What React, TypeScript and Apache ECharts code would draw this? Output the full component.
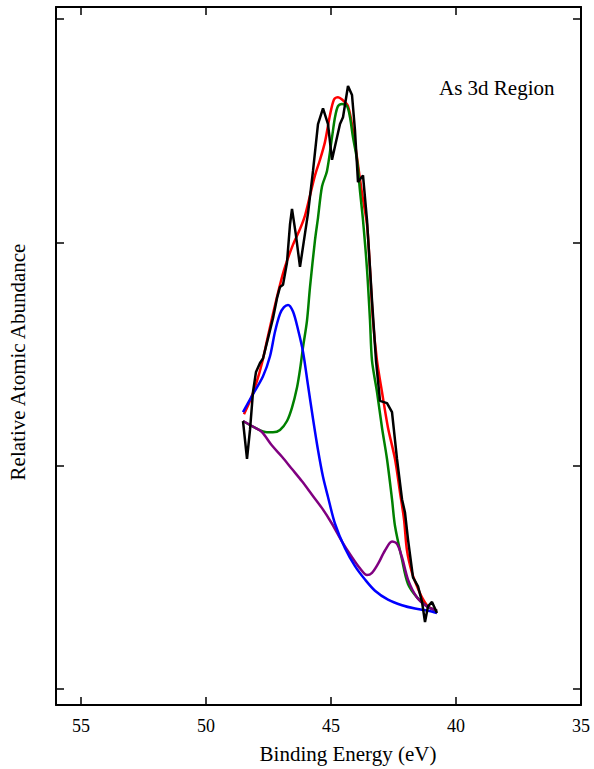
import React, { useEffect, useRef } from "react";
import * as echarts from "echarts";

// Raw spectrum (black)
const rawEnergy = [48.52, 48.36, 48.24, 48.12, 48.0, 47.84, 47.72, 47.52, 47.32, 47.16, 47.04, 46.92, 46.76, 46.64, 46.56, 46.4, 46.24, 46.08, 45.92, 45.72, 45.52, 45.32, 45.12, 44.96, 44.84, 44.64, 44.52, 44.32, 44.16, 44.04, 43.92, 43.72, 43.56, 43.36, 43.2, 43.04, 42.76, 42.56, 42.36, 42.16, 42.04, 41.92, 41.72, 41.52, 41.36, 41.24, 41.12, 40.96, 40.76];
const rawAbundance = [1.2, 1.03, 1.16, 1.33, 1.42, 1.46, 1.48, 1.57, 1.66, 1.75, 1.8, 1.81, 1.91, 2.08, 2.15, 2.03, 1.89, 2.01, 2.13, 2.32, 2.53, 2.6, 2.53, 2.37, 2.43, 2.53, 2.56, 2.7, 2.66, 2.5, 2.27, 2.3, 2.1, 1.74, 1.47, 1.29, 1.28, 1.24, 1.03, 0.85, 0.79, 0.67, 0.5, 0.46, 0.39, 0.3, 0.37, 0.39, 0.34];

// Envelope fit (red)
const envEnergy = [48.48, 48.24, 47.96, 47.76, 47.56, 47.32, 47.04, 46.84, 46.52, 46.24, 46.04, 45.84, 45.64, 45.44, 45.24, 45.04, 44.88, 44.72, 44.56, 44.32, 44.12, 43.96, 43.76, 43.56, 43.44, 43.32, 43.16, 42.96, 42.72, 42.44, 42.24, 42.08, 41.96, 41.76, 41.56, 41.36, 41.12, 40.76];
const envAbundance = [1.23, 1.29, 1.38, 1.46, 1.56, 1.68, 1.81, 1.89, 1.99, 2.06, 2.12, 2.21, 2.3, 2.37, 2.45, 2.57, 2.64, 2.65, 2.64, 2.61, 2.5, 2.38, 2.22, 2.08, 1.88, 1.65, 1.47, 1.33, 1.17, 1.03, 0.88, 0.76, 0.62, 0.52, 0.46, 0.41, 0.37, 0.35];

// Component 1 (green)
const greenEnergy = [48.52, 48.04, 47.56, 47.32, 47.04, 46.76, 46.56, 46.36, 46.24, 46.12, 45.96, 45.84, 45.64, 45.52, 45.36, 45.16, 44.96, 44.84, 44.72, 44.56, 44.36, 44.24, 44.12, 43.96, 43.84, 43.72, 43.56, 43.44, 43.36, 43.16, 42.96, 42.76, 42.56, 42.44, 42.16, 41.92, 41.56, 41.16, 40.76];
const greenAbundance = [1.2, 1.17, 1.15, 1.15, 1.16, 1.2, 1.26, 1.35, 1.43, 1.53, 1.65, 1.8, 2.01, 2.11, 2.25, 2.32, 2.47, 2.56, 2.61, 2.62, 2.61, 2.56, 2.47, 2.37, 2.23, 2.1, 1.88, 1.65, 1.47, 1.33, 1.17, 1.03, 0.85, 0.73, 0.58, 0.47, 0.41, 0.37, 0.35];

// Component 2 (blue)
const blueEnergy = [48.52, 48.12, 47.72, 47.44, 47.24, 47.04, 46.88, 46.72, 46.52, 46.32, 46.12, 45.92, 45.72, 45.52, 45.32, 45.12, 44.84, 44.44, 44.04, 43.64, 43.24, 42.72, 42.16, 41.64, 41.12, 40.76];
const blueAbundance = [1.24, 1.32, 1.4, 1.49, 1.6, 1.68, 1.71, 1.72, 1.69, 1.61, 1.51, 1.36, 1.21, 1.07, 0.95, 0.86, 0.74, 0.63, 0.55, 0.49, 0.44, 0.4, 0.375, 0.36, 0.35, 0.34];

// Component 3 (purple)
const purpleEnergy = [48.52, 48.04, 47.76, 47.36, 46.96, 46.56, 46.16, 45.76, 45.36, 44.96, 44.56, 44.16, 43.84, 43.56, 43.36, 43.12, 42.84, 42.56, 42.36, 42.16, 41.92, 41.56, 41.16, 40.76];
const purpleAbundance = [1.2, 1.17, 1.15, 1.09, 1.04, 0.985, 0.93, 0.87, 0.81, 0.74, 0.66, 0.59, 0.54, 0.51, 0.52, 0.56, 0.62, 0.66, 0.65, 0.59, 0.49, 0.41, 0.37, 0.35];

const xTickValues = [35, 40, 45, 50, 55];
const yTickValues = [0, 1, 2, 3];

const FONT = "'Liberation Serif', 'Times New Roman', Times, serif";

function zip(xs: number[], ys: number[]) {
  return xs.map((x, i) => [x, ys[i]]);
}

export default function App() {
  const ref = useRef<HTMLDivElement>(null);

  useEffect(() => {
    if (!ref.current) return;
    const chart = echarts.init(ref.current, null, { renderer: "svg" });

    const axisLine = { show: true, onZero: false, lineStyle: { color: "#000", width: 2 } };
    const xCommon = {
      type: "value" as const,
      min: 35,
      max: 56,
      interval: 5,
      inverse: true,
      splitLine: { show: false },
      axisLine,
      axisTick: {
        show: true,
        inside: true,
        length: 8,
        customValues: xTickValues,
        lineStyle: { color: "#000", width: 1.5 },
      },
    };
    const yCommon = {
      type: "value" as const,
      min: -0.0717,
      max: 3.054,
      splitLine: { show: false },
      axisLine,
      axisLabel: { show: false },
      axisTick: {
        show: true,
        inside: true,
        length: 8,
        customValues: yTickValues,
        lineStyle: { color: "#000", width: 1.5 },
      },
    };

    const lineSeries = (name: string, data: number[][], color: string, smooth: number | boolean, z: number) => ({
      name,
      type: "line" as const,
      data,
      showSymbol: false,
      smooth,
      z,
      lineStyle: { color, width: 2.5 },
      itemStyle: { color },
    });

    chart.setOption({
      animation: false,
      backgroundColor: "#fff",
      textStyle: { fontFamily: FONT, color: "#000" },
      grid: { left: 56, right: 13, top: 7, bottom: 64, containLabel: false },
      xAxis: [
        {
          ...xCommon,
          position: "bottom",
          axisLabel: {
            show: true,
            margin: 12,
            formatter: (v: number) => (v === 56 ? "" : String(v)),
            rich: {
              s: { fontFamily: FONT, fontSize: 18, color: "#000" },
            },
            textStyle: { fontFamily: FONT, fontSize: 18, color: "#000" },
            fontFamily: FONT,
            fontSize: 18,
            fontStyle: "normal",
            fontWeight: "normal",
            color: "#000",
          },
        },
        {
          ...xCommon,
          position: "top",
          axisLabel: { show: false },
        },
      ],
      yAxis: [
        { ...yCommon, position: "left" },
        { ...yCommon, position: "right" },
      ],
      graphic: [
        {
          type: "text",
          x: 348,
          y: 754,
          style: {
            text: "Binding Energy (eV)",
            fill: "#000",
            fontSize: 21,
            fontFamily: FONT,
            align: "center",
            verticalAlign: "middle",
          },
        },
        {
          type: "text",
          x: 18,
          y: 362,
          rotation: Math.PI / 2,
          style: {
            text: "Relative Atomic Abundance",
            fill: "#000",
            fontSize: 21,
            fontFamily: FONT,
            align: "center",
            verticalAlign: "middle",
          },
        },
        {
          type: "text",
          x: 439,
          y: 88,
          style: {
            text: "As 3d Region",
            fill: "#000",
            fontSize: 21,
            fontFamily: FONT,
            align: "left",
            verticalAlign: "middle",
          },
        },
      ],
      series: [
        lineSeries("Envelope", zip(envEnergy, envAbundance), "#ff0000", 0.3, 3),
        lineSeries("Component 1", zip(greenEnergy, greenAbundance), "#008000", 0.3, 4),
        lineSeries("Component 3", zip(purpleEnergy, purpleAbundance), "#800080", 0.3, 5),
        lineSeries("Component 2", zip(blueEnergy, blueAbundance), "#0000ff", 0.3, 6),
        lineSeries("Raw", zip(rawEnergy, rawAbundance), "#000000", false, 7),
      ],
    });

    return () => chart.dispose();
  }, []);

  return (
    <div
      ref={ref}
      style={{ position: "fixed", left: 0, top: 0, width: 594, height: 769, background: "#fff" }}
    />
  );
}
